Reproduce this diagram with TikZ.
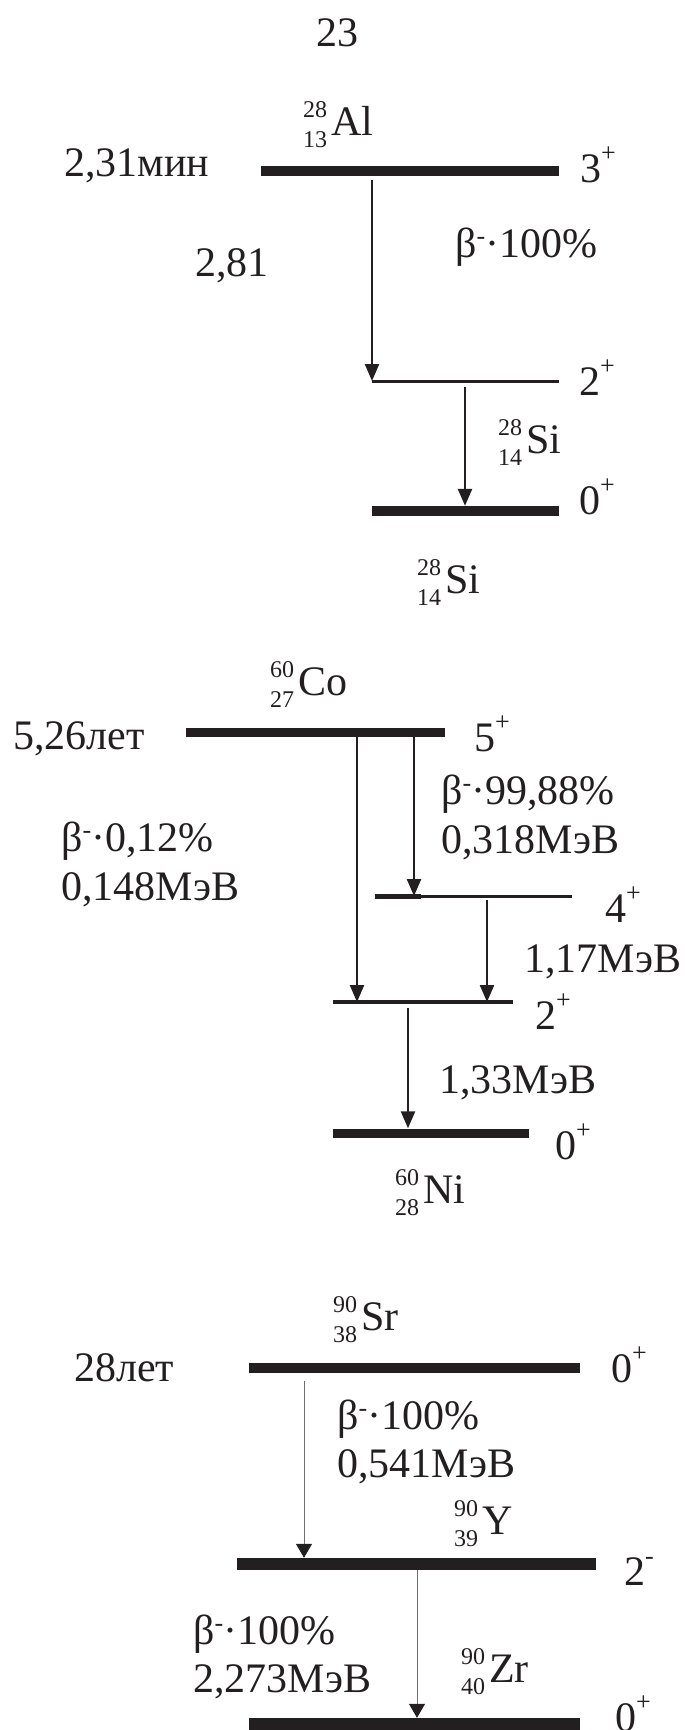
\documentclass[tikz,border=0pt]{standalone}
\usepackage{fontspec}
\setmainfont{Liberation Serif}
\usetikzlibrary{arrows.meta,positioning}
\definecolor{ink}{HTML}{231F20}
\definecolor{faint}{HTML}{6E6E6E}
\newcommand{\nuc}[3]{{\fontsize{24}{24}\selectfont\raisebox{18pt}{#1}\llap{\raisebox{-12pt}{#2}}}\kern4pt#3}
\newcommand{\spn}[1]{\raisebox{21pt}{\fontsize{26}{26}\selectfont#1}}
\newcommand{\betam}{β\raisebox{13pt}{\fontsize{26}{26}\selectfont -}}

\begin{document}
\begin{tikzpicture}[x=1pt, y=-1pt,
  lvl/.style={rectangle, fill=ink, inner sep=0pt, minimum height=#1},
  lvl/.default=10pt,
  txt/.style={inner sep=0pt, anchor=base west, text=ink, font=\fontsize{42}{48}\selectfont},
  arr/.style={-{Triangle[length=17pt, width=14pt]}, line width=2.4pt, ink},
  farr/.style={-{Triangle[length=14pt, width=16pt, color=ink]}, line width=1pt, faint}
]
\useasboundingbox (0,0) rectangle (685,1730);

\node[txt, anchor=base] (pg) at (337,46) {23};

% 28Al -> 28Si
\node[txt] (alname) at (303,135) {\nuc{28}{13}{Al}};
\node[txt] (alt) at (64,176) {2,31мин};
\node[lvl, minimum width=298pt] (al) at (410,171) {};
\node[txt] (al3) at (580,182) {3\spn{+}};
\node[txt] (alb) at (455,257) {\betam·100\%};
\node[txt] (ale) at (195,276) {2,81};
\node[lvl=3pt, minimum width=187pt] (si2) at (465.5,381) {};
\node[txt] (si2s) at (579,395) {2\spn{+}};
\node[txt] (sim) at (498,453) {\nuc{28}{14}{Si}};
\node[lvl, minimum width=187pt] (si0) at (465.5,511) {};
\node[txt] (si0s) at (579,514) {0\spn{+}};
\node[txt] (sib) at (417,593) {\nuc{28}{14}{Si}};
\coordinate (c1) at (372,0);
\coordinate (c2) at (465,0);
\draw[arr, shorten <=4pt] (al.south -| c1) -- (si2 -| c1);
\draw[arr, shorten <=4pt] (si2.south -| c2) -- (si0.north -| c2);

% 60Co -> 60Ni
\node[txt] (coname) at (270,695) {\nuc{60}{27}{Co}};
\node[txt] (cot) at (13,749) {5,26лет};
\node[lvl=9pt, minimum width=259pt] (co) at (315.5,732) {};
\node[txt] (co5) at (474,751) {5\spn{+}};
\node[txt] (cob1) at (441,804) {\betam·99,88\%};
\node[txt] (coe1) at (441,853) {0,318МэВ};
\node[txt] (cob2) at (61,851) {\betam·0,12\%};
\node[txt] (coe2) at (61,900) {0,148МэВ};
\node[lvl=3pt, minimum width=197pt] (ni4) at (473.5,896) {};
\node[lvl=5pt, minimum width=46pt] (ni4a) at (398,896) {};
\node[txt] (ni4s) at (605,922) {4\spn{+}};
\node[txt] (nie1) at (524,972) {1,17МэВ};
\node[lvl=4pt, minimum width=180pt] (ni2) at (423,1002) {};
\node[txt] (ni2s) at (535,1029) {2\spn{+}};
\node[txt] (nie2) at (439,1093) {1,33МэВ};
\node[lvl=9pt, minimum width=196pt] (ni0) at (431,1133) {};
\node[txt] (ni0s) at (555,1159) {0\spn{+}};
\node[txt] (niname) at (395,1203) {\nuc{60}{28}{Ni}};
\coordinate (c3) at (357,0);
\coordinate (c4) at (414,0);
\coordinate (c5) at (487,0);
\coordinate (c6) at (408,0);
\draw[arr] (co.south -| c3) -- (ni2 -| c3);
\draw[arr] (co.south -| c4) -- (ni4 -| c4);
\draw[arr, shorten <=2pt] (ni4.south -| c5) -- (ni2 -| c5);
\draw[arr, shorten <=4pt] (ni2.south -| c6) -- (ni0.north -| c6);

% 90Sr -> 90Y -> 90Zr
\node[txt] (srname) at (333,1330) {\nuc{90}{38}{Sr}};
\node[txt] (srt) at (74,1381) {28лет};
\node[lvl, minimum width=331pt] (sr) at (414.5,1368) {};
\node[txt] (sr0) at (611,1382) {0\spn{+}};
\node[txt] (srb) at (337,1429) {\betam·100\%};
\node[txt] (sre) at (337,1477) {0,541МэВ};
\node[txt] (yname) at (454,1534) {\nuc{90}{39}{Y}};
\node[lvl=12pt, minimum width=359pt] (yt) at (416.5,1564) {};
\node[txt] (yt2) at (624,1585) {2\spn{-}};
\node[txt] (ytb) at (193,1644) {\betam·100\%};
\node[txt] (yte) at (193,1692) {2,273МэВ};
\node[txt] (zrname) at (461,1682) {\nuc{90}{40}{Zr}};
\node[lvl=12pt, minimum width=331pt] (zr) at (414.5,1724) {};
\node[txt] (zr0) at (615,1731) {0\spn{+}};
\coordinate (c7) at (304,0);
\coordinate (c8) at (417,0);
\draw[farr, shorten <=8pt] (sr.south -| c7) -- (yt.north -| c7);
\draw[farr] (yt.south -| c8) -- (zr.north -| c8);
\end{tikzpicture}
\end{document}
